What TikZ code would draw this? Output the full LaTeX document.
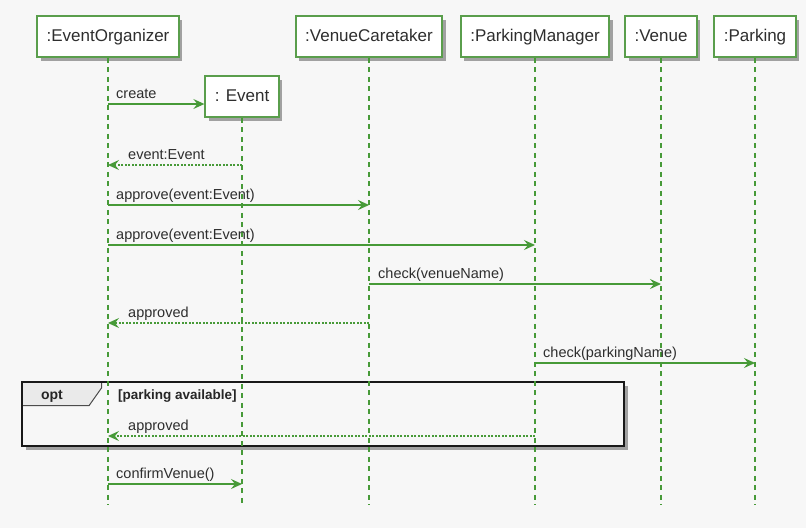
\documentclass[tikz,border=0pt]{standalone}
\usepackage{fontspec}
\setmainfont{Liberation Sans}
\usetikzlibrary{positioning,shadows,arrows.meta}
\definecolor{umlgreen}{HTML}{479A38}
\definecolor{boxgreen}{HTML}{5A9E4C}
\definecolor{txtgray}{HTML}{2E2E2E}
\definecolor{bggray}{HTML}{F7F7F7}
\definecolor{tabgray}{HTML}{EAEAEA}

\begin{document}
\begin{tikzpicture}[x=1pt,y=-1pt,
    part/.style={draw=boxgreen, line width=1.8pt, fill=white, minimum height=41pt, inner xsep=9.5pt,
        text height=12.5pt, text depth=3.5pt,
        font=\fontsize{17}{20}\selectfont, text=txtgray,
        drop shadow={shadow xshift=3.5pt, shadow yshift=-4pt, opacity=0.5, fill=black!70}},
    life/.style={draw=umlgreen, line width=1.3pt, dash pattern=on 5pt off 4.5pt},
    msg/.style={draw=umlgreen, line width=1.2pt, -{Stealth[length=11pt,width=10pt,inset=4pt]}},
    ret/.style={msg, line width=1.3pt, dash pattern=on 2pt off 1.5pt},
    lbl/.style={font=\fontsize{14.5}{17}\selectfont, text=txtgray, inner sep=0pt, anchor=base west},
    optframe/.style={draw=black!90, line width=2.6pt},
    tabline/.style={draw=black!70, line width=1pt}
]
    \fill[bggray] (0,0) rectangle (806,528);
    \useasboundingbox (0,0) rectangle (806,528);

    % participants
    \node[part] (eo) at (108,36.5) {:EventOrganizer};
    \node[part] (vc) at (369,36.5) {:VenueCaretaker};
    \node[part] (pm) at (535,36.5) {:ParkingManager};
    \node[part] (venue) at (661,36.5) {:Venue};
    \node[part] (parking) at (755,36.5) {:Parking};
    \node[part] (event) at (242,96.5) {: Event};

    % opt fragment
    \coordinate (optnw) at (22,382);
    \coordinate (optse) at (624,446);
    \fill[bggray, drop shadow={shadow xshift=3.5pt, shadow yshift=-4pt, opacity=0.5, fill=black!70}] (optnw) rectangle (optse);
    \fill[tabgray] (optnw) -- ++(79.5,0) -- ++(0,6) -- ++(-12.5,17.7) -- ++(-67,0) -- cycle;
    \draw[tabline] ([xshift=79.5pt]optnw) -- ++(0,6) -- ++(-12.5,17.7) -- (optnw |- 0,405.7);
    \draw[optframe] (optnw) rectangle (optse);
    \node[font=\bfseries\fontsize{14}{16}\selectfont, text=black!85] (optlbl) at (52,396) {opt};
    \node[font=\bfseries\fontsize{13.5}{16}\selectfont, text=black!85, anchor=west, inner sep=0pt] (guard) at (118,396) {[parking available]};

    % lifelines
    \foreach \p in {eo,vc,pm,venue,parking,event}
        \draw[life] (\p.south) -- (\p.south |- 0,505);

    % messages
    \draw[msg] (eo |- 0,104) -- (event.west |- 0,104);
    \node[lbl] (lcreate) at ([xshift=8pt,yshift=5.5pt]eo |- 0,104) {create};

    \draw[ret] (event |- 0,165) -- (eo |- 0,165);
    \node[lbl] (lret1) at ([xshift=20pt,yshift=5.5pt]eo |- 0,165) {event:Event};

    \draw[msg] (eo |- 0,205) -- (vc |- 0,205);
    \node[lbl] (lappr1) at ([xshift=8pt,yshift=5.5pt]eo |- 0,205) {approve(event:Event)};

    \draw[msg] (eo |- 0,245) -- (pm |- 0,245);
    \node[lbl] (lappr2) at ([xshift=8pt,yshift=5.5pt]eo |- 0,245) {approve(event:Event)};

    \draw[msg] (vc |- 0,284) -- (venue |- 0,284);
    \node[lbl] (lcheck1) at ([xshift=9pt,yshift=5.5pt]vc |- 0,284) {check(venueName)};

    \draw[ret] (vc |- 0,323) -- (eo |- 0,323);
    \node[lbl] (lret2) at ([xshift=20pt,yshift=5.5pt]eo |- 0,323) {approved};

    \draw[msg] (pm |- 0,363) -- (parking |- 0,363);
    \node[lbl] (lcheck2) at ([xshift=8pt,yshift=5.5pt]pm |- 0,363) {check(parkingName)};

    \draw[ret] (pm |- 0,436) -- (eo |- 0,436);
    \node[lbl] (lret3) at ([xshift=20pt,yshift=5.5pt]eo |- 0,436) {approved};

    \draw[msg] (eo |- 0,484) -- (event |- 0,484);
    \node[lbl] (lconfirm) at ([xshift=8pt,yshift=5.5pt]eo |- 0,484) {confirmVenue()};
\end{tikzpicture}
\end{document}
